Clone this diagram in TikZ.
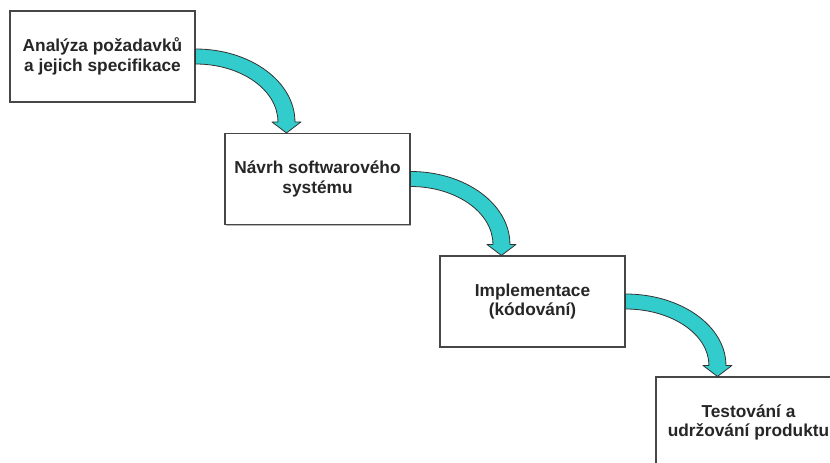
\documentclass[tikz,border=0pt]{standalone}
\usepackage{fontspec}
\setmainfont{Liberation Sans}
\usetikzlibrary{calc,shadows}
\definecolor{arrowteal}{RGB}{51,204,204}
\newcommand\wfarrow[2]{%
  \path[wfarr] let \p1=(#1.east), \p2=($(#2.north west)+(62pt,0pt)$) in
    (\x1,\y1+7.5pt)
    arc[start angle=90, end angle=0, x radius={\x2+8.5pt-\x1}, y radius={\y1+7.5pt-\y2-11pt}]
    -- (\x2+14.5pt,\y2+11pt) -- (\p2) -- (\x2-14.5pt,\y2+11pt) -- (\x2-8.5pt,\y2+11pt)
    arc[start angle=0, end angle=90, x radius={\x2-8.5pt-\x1}, y radius={\y1-7.5pt-\y2-11pt}]
    -- cycle;}
\begin{document}
\begin{tikzpicture}[x=1pt,y=-1pt,
  box/.style={draw=black!72, line width=1.1pt, fill=white,
    minimum width=185pt, minimum height=91pt, inner sep=0pt, align=center,
    font=\fontsize{17.3pt}{19.5pt}\selectfont\bfseries, text=black!85,
    drop shadow={shadow xshift=1.2pt, shadow yshift=-1.2pt, fill=black!35, opacity=0.8}},
  wfarr/.style={fill=arrowteal, draw=black!80, line width=0.8pt, line join=round}]
\clip (0,0) rectangle (830,463);
\fill[white] (0,0) rectangle (830,463);
\node[box] (b1) at (102.5,56.5) {Analýza požadavků\\a jejich specifikace};
\node[box] (b2) at (317.5,179) {Návrh softwarového\\systému};
\node[box] (b3) at (532.5,301.5) {Implementace\\(kódování)};
\node[box] (b4) at (748.5,422.5) {Testování a\\udržování produktu};
\wfarrow{b1}{b2}
\wfarrow{b2}{b3}
\wfarrow{b3}{b4}
\end{tikzpicture}
\end{document}
